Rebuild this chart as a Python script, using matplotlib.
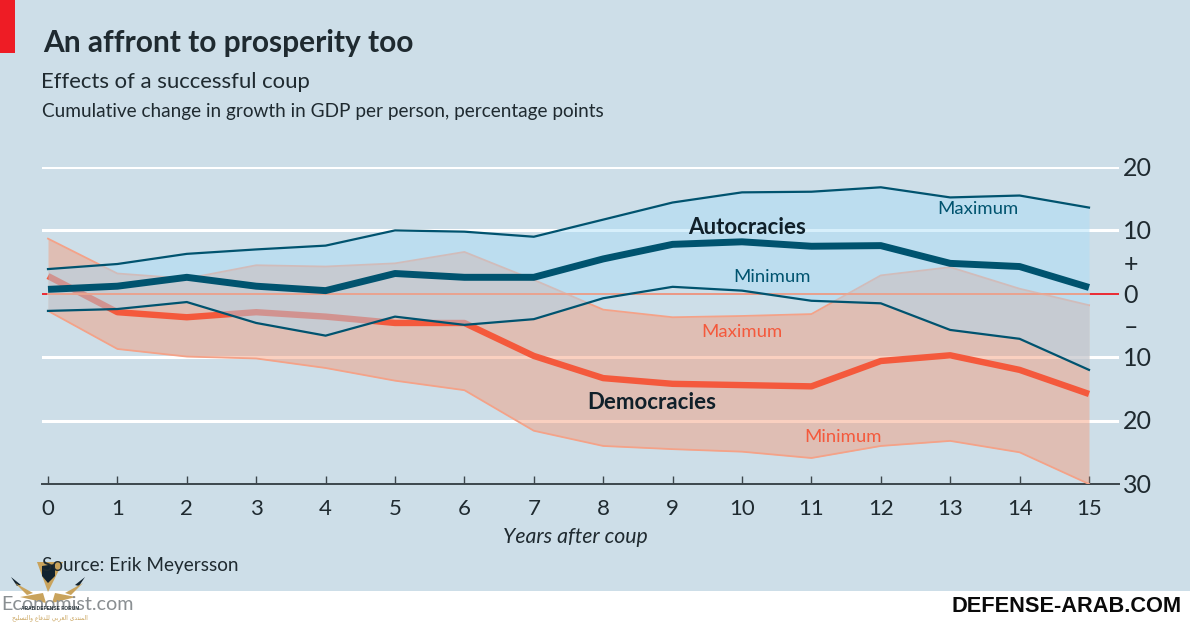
# plot.py - effects of a successful coup on GDP per person growth

import matplotlib
matplotlib.use("Agg")
import matplotlib.pyplot as plt
from matplotlib.patches import Rectangle, Polygon

W, H = 1190, 624

years = list(range(16))
y_ticks = [20, 10, 0, -10, -20, -30]
y_labels = ["20", "10", "0", "10", "20", "30"]

auto_max = [3.9, 4.7, 6.3, 7.0, 7.6, 10.0, 9.8, 9.0, 11.7, 14.4, 16.0, 16.1, 16.8, 15.2, 15.5, 13.6]
auto_mean = [0.7, 1.2, 2.6, 1.2, 0.5, 3.2, 2.6, 2.6, 5.5, 7.8, 8.2, 7.5, 7.6, 4.8, 4.3, 1.0]
auto_min = [-2.7, -2.4, -1.3, -4.6, -6.6, -3.6, -4.9, -4.0, -0.7, 1.1, 0.5, -1.1, -1.5, -5.7, -7.1, -12.0]

dem_max = [8.7, 3.2, 2.4, 4.5, 4.3, 4.8, 6.6, 2.2, -2.5, -3.7, -3.5, -3.2, 2.9, 4.2, 0.8, -1.8]
dem_mean = [2.8, -2.9, -3.7, -2.9, -3.6, -4.6, -4.6, -9.8, -13.3, -14.2, -14.4, -14.6, -10.6, -9.7, -12.0, -15.8]
dem_min = [-2.7, -8.7, -9.9, -10.2, -11.7, -13.7, -15.2, -21.6, -24.0, -24.5, -24.9, -25.9, -24.0, -23.2, -25.0, -30.0]

# watermark caption, already in shaped presentation forms
arabic_words = [
    "\ufe8d\ufedf\ufee4\ufee8\ufe98\ufeaa\ufeef",
    "\ufe8d\ufedf\ufecc\ufeae\ufe91\ufef2",
    "\ufedf\ufee0\ufeaa\ufed3\ufe8e\ufec9",
    "\ufeed\ufe8d\ufedf\ufe98\ufeb4\ufee0\ufef4\ufea2",
]

BG = "#cddee8"
DARK = "#1f2a30"
BLUE = "#00536f"
RED = "#f4593c"
SALMON = "#f4a288"

plt.rcParams["font.family"] = ["Lato", "DejaVu Sans"]

fig = plt.figure(figsize=(W / 100, H / 100), dpi=100, facecolor=BG)


def label(px, py, s, **kw):
    # place text using pixel coordinates from the top left
    kw.setdefault("color", DARK)
    kw.setdefault("va", "center")
    return fig.text(px / W, 1 - py / H, s, **kw)


# chart area, 42-1119 px wide, 167-484 px tall
ax = fig.add_axes([42 / W, 1 - 484 / H, (1119 - 42) / W, (484 - 167) / H])
ax.set_facecolor("none")
ax.set_xlim(-6 / 69.4, 15 + 30 / 69.4)
ax.set_ylim(-30, 20)
for side in ["top", "left", "right"]:
    ax.spines[side].set_visible(False)
ax.spines["bottom"].set_color("#3c464c")
ax.spines["bottom"].set_linewidth(1.4)
ax.set_xticks(years)
ax.set_xticklabels([])
ax.set_yticks([])
ax.tick_params(axis="x", direction="in", length=6, width=1, color="#3c464c")

for t in y_ticks:
    if t == 0:
        ax.axhline(t, color="#ee1c25", lw=1.3, zorder=1)
    elif t > -30:
        ax.axhline(t, color="white", lw=2.2, zorder=1)

# democracies sit under the autocracies band
ax.fill_between(years, dem_min, dem_max, color="#f69a77", alpha=0.46, lw=0, zorder=2)
ax.plot(years, dem_max, color=SALMON, lw=1.3, zorder=3)
ax.plot(years, dem_min, color=SALMON, lw=1.3, zorder=3)
ax.plot(years, dem_mean, color=RED, lw=4.6, zorder=3, solid_capstyle="butt")

ax.fill_between(years, auto_min, auto_max, color="#a8dcf8", alpha=0.45, lw=0, zorder=4)
ax.plot([years[0], years[-1]], [0, 0], color="#eba58f", lw=1.3, zorder=4.5)
ax.plot(years, auto_max, color=BLUE, lw=1.6, zorder=5)
ax.plot(years, auto_min, color=BLUE, lw=1.6, zorder=5)
ax.plot(years, auto_mean, color=BLUE, lw=5, zorder=5, solid_capstyle="butt")

# in-chart labels
ax.text(9.22, 10.4, "Autocracies", fontsize=16, fontweight="bold", color="#10202a", ha="left", va="center", zorder=6)
ax.text(8.7, -17.1, "Democracies", fontsize=16, fontweight="bold", color="#10202a", ha="center", va="center", zorder=6)
ax.text(13.4, 13.4, "Maximum", fontsize=13.3, color=BLUE, ha="center", va="center", zorder=6)
ax.text(10.43, 2.6, "Minimum", fontsize=13.3, color=BLUE, ha="center", va="center", zorder=6)
ax.text(10.0, -6.1, "Maximum", fontsize=13.3, color=RED, ha="center", va="center", zorder=6)
ax.text(11.45, -22.6, "Minimum", fontsize=13.3, color=RED, ha="center", va="center", zorder=6)

# tick labels
for yr in years:
    ax.annotate(str(yr), (yr, -30), xytext=(0, -18), textcoords="offset points",
                ha="center", va="center", fontsize=16, color=DARK, annotation_clip=False)
for t, s in zip(y_ticks, y_labels):
    ax.annotate(s, (1, t), xycoords=("axes fraction", "data"), xytext=(3, -1),
                textcoords="offset points", ha="left", va="center", fontsize=18,
                color=DARK, annotation_clip=False)
label(1124, 264, "+", fontsize=18)
label(1124, 327, "\u2013", fontsize=18)

# header and footer
fig.add_artist(Rectangle((0, 1 - 53 / H), 15 / W, 53 / H, transform=fig.transFigure, color="#ee1c25", lw=0))
label(43, 43, "An affront to prosperity too", fontsize=21.5, fontweight="bold")
label(41, 82, "Effects of a successful coup", fontsize=15.9)
label(42, 111, "Cumulative change in growth in GDP per person, percentage points", fontsize=13.7)
label(575, 537, "Years after coup", fontsize=15.3, style="italic", ha="center")
label(42, 566, "Source: Erik Meyersson", fontsize=13.7)

fig.add_artist(Rectangle((0, 0), 1, (H - 591) / H, transform=fig.transFigure, color="white", lw=0))
label(1, 604, "Economist.com", fontsize=14.2, color="#8a8f92")
label(1182, 606, "DEFENSE-ARAB.COM", fontsize=15.7, fontweight="bold", color="#0a0a0a", ha="right",
      family=["Liberation Sans"])

# watermark emblem over the source line
gold = "#c9a35c"
navy = "#12222e"
for pts, col in [
    ([(37, 562), (63, 562), (48, 592)], gold),
    ([(42, 566), (55, 564), (55, 576), (48, 583), (42, 576)], navy),
    ([(11, 577), (21, 585), (17, 586)], navy),
    ([(85, 577), (75, 585), (79, 586)], navy),
    ([(15, 583), (33, 593), (27, 595)], gold),
    ([(83, 583), (65, 593), (71, 595)], gold),
    ([(20, 597), (43, 593), (46, 603)], gold),
    ([(76, 597), (55, 593), (52, 603)], gold),
]:
    fig.add_artist(Polygon([(x / W, 1 - y / H) for x, y in pts], transform=fig.transFigure, color=col, lw=0))
label(50, 609, "ARAB DEFENSE FORUM", fontsize=3.5, fontweight="bold", color="#26323a", ha="center",
      family=["Liberation Sans"])
# matplotlib does not reorder right-to-left text, so reverse it for display
label(50, 618, " ".join(arabic_words)[::-1], fontsize=4.2, color=gold, ha="center", family=["DejaVu Sans"])

fig.savefig("out.png", dpi=100, facecolor=BG)
